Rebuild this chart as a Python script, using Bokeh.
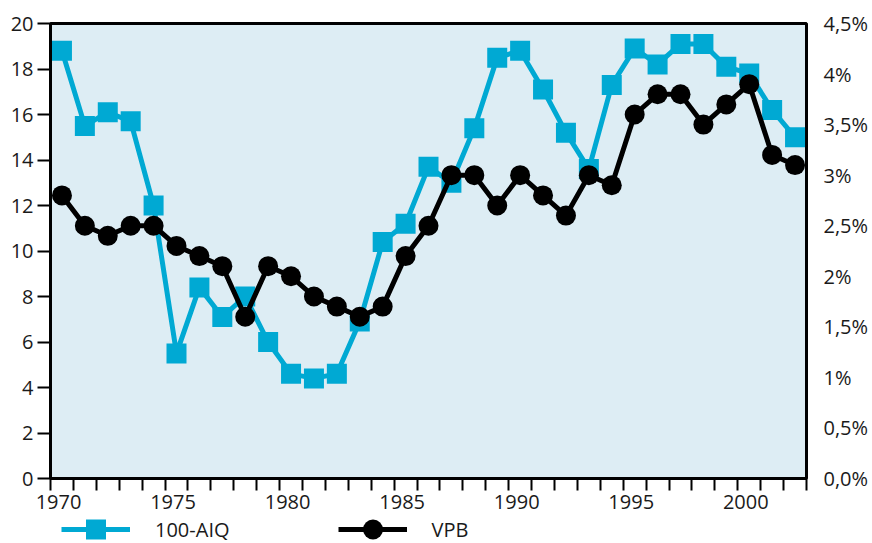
from bokeh.plotting import figure
from bokeh.models import (Range1d, LinearAxis, FixedTicker, Legend, LegendItem)
from bokeh.layouts import column
from bokeh.embed import file_html
from bokeh.resources import INLINE

# ---- data ----
years = list(range(1970, 2003))
aiq = [18.8, 15.5, 16.1, 15.7, 12.0, 5.5, 8.4, 7.1, 8.0, 6.0,
       4.6, 4.4, 4.6, 6.9, 10.4, 11.2, 13.7, 13.0, 15.4, 18.5,
       18.8, 17.1, 15.2, 13.6, 17.3, 18.9, 18.2, 19.1, 19.1, 18.1,
       17.8, 16.2, 15.0]
vpb = [2.8, 2.5, 2.4, 2.5, 2.5, 2.3, 2.2, 2.1, 1.6, 2.1,
       2.0, 1.8, 1.7, 1.6, 1.7, 2.2, 2.5, 3.0, 3.0, 2.7,
       3.0, 2.8, 2.6, 3.0, 2.9, 3.6, 3.8, 3.8, 3.5, 3.7,
       3.9, 3.2, 3.1]
x_tick_labels = ["1970", "1975", "1980", "1985", "1990", "1995", "2000"]
left_ticks = [0, 2, 4, 6, 8, 10, 12, 14, 16, 18, 20]
right_ticks = [0, 0.5, 1, 1.5, 2, 2.5, 3, 3.5, 4, 4.5]
right_labels = ["0,0%", "0,5%", "1%", "1,5%", "2%", "2,5%", "3%", "3,5%", "4%", "4,5%"]
series_names = ["100-AIQ", "VPB"]

BLUE = "#00a9d3"
BG = "#ddedf4"
FONT = "Open Sans"
FS = "20px"
TXT = "#1a1a1a"

x_pos = [y + 0.5 for y in years]

p = figure(width=872, height=515, output_backend="svg", toolbar_location=None,
           x_range=Range1d(1970, 2003), y_range=Range1d(0, 20),
           min_border_left=50, min_border_right=66, min_border_top=23,
           min_border_bottom=37, y_axis_location=None, x_axis_location=None)
p.background_fill_color = BG
p.border_fill_color = "white"
p.outline_line_color = "black"
p.outline_line_width = 3
p.grid.visible = False
p.extra_y_ranges = {"pct": Range1d(0, 4.5)}

# left axis
yl = LinearAxis(ticker=FixedTicker(ticks=left_ticks))
yl.axis_line_width = 3
yl.axis_line_color = "black"
yl.major_tick_out = 13
yl.major_tick_in = 0
yl.major_tick_line_width = 2
yl.minor_tick_out = 0
yl.major_label_standoff = 4
yl.major_label_text_font = FONT
yl.major_label_text_font_size = FS
yl.major_label_text_color = TXT
p.add_layout(yl, "left")

# right axis
yr = LinearAxis(y_range_name="pct", ticker=FixedTicker(ticks=right_ticks))
yr.axis_line_color = None
yr.major_tick_line_color = None
yr.minor_tick_line_color = None
yr.major_tick_out = 0
yr.major_label_standoff = 17
yr.major_label_overrides = {t: l for t, l in zip(right_ticks, right_labels)}
yr.major_label_text_font = FONT
yr.major_label_text_font_size = FS
yr.major_label_text_color = TXT
p.add_layout(yr, "right")

# bottom axis: ticks every year, labels slightly right of the tick
label_pos = [int(l) + 0.35 for l in x_tick_labels]
xa = LinearAxis(ticker=FixedTicker(ticks=label_pos, minor_ticks=list(range(1970, 2004))))
xa.axis_line_width = 3
xa.axis_line_color = "black"
xa.major_tick_line_color = None
xa.major_tick_out = 0
xa.minor_tick_out = 12
xa.minor_tick_in = 0
xa.minor_tick_line_width = 2
xa.minor_tick_line_color = "black"
xa.major_label_standoff = 4
xa.major_label_text_line_height = 0.75
xa.major_label_overrides = {t: l for t, l in zip(label_pos, x_tick_labels)}
xa.major_label_text_font = FONT
xa.major_label_text_font_size = FS
xa.major_label_text_color = TXT
p.add_layout(xa, "below")

# series
p.line(x_pos, aiq, line_color=BLUE, line_width=5)
p.scatter(x_pos, aiq, marker="square", size=20, fill_color=BLUE, line_color=None)
p.line(x_pos, vpb, line_color="black", line_width=5, y_range_name="pct")
p.scatter(x_pos, vpb, marker="circle", size=20, fill_color="black", line_color=None,
          y_range_name="pct")

# legend strip (separate figure so the legend is not clipped by the main frame)
lg = figure(width=872, height=28, output_backend="svg", toolbar_location=None,
            x_range=Range1d(0, 1), y_range=Range1d(0, 1),
            min_border=0, x_axis_location=None, y_axis_location=None)
lg.outline_line_color = None
lg.grid.visible = False
lg.background_fill_color = "white"
a1 = lg.line(x_pos, aiq, line_color=BLUE, line_width=5)
a2 = lg.scatter(x_pos, aiq, marker="square", size=20, fill_color=BLUE, line_color=None)
b1 = lg.line(x_pos, vpb, line_color="black", line_width=5)
b2 = lg.scatter(x_pos, vpb, marker="circle", size=20, fill_color="black", line_color=None)

legend = Legend(items=[LegendItem(label=series_names[0], renderers=[a1, a2]),
                       LegendItem(label=series_names[1], renderers=[b1, b2])],
                orientation="horizontal", location=(11, -11),
                glyph_width=69, glyph_height=50, label_standoff=25, spacing=108,
                padding=0, margin=0, background_fill_alpha=0, border_line_alpha=0,
                label_text_font=FONT, label_text_font_size=FS, label_text_color=TXT)
lg.add_layout(legend, "center")

open("out.html", "w").write(file_html(column(p, lg, spacing=0), INLINE))
